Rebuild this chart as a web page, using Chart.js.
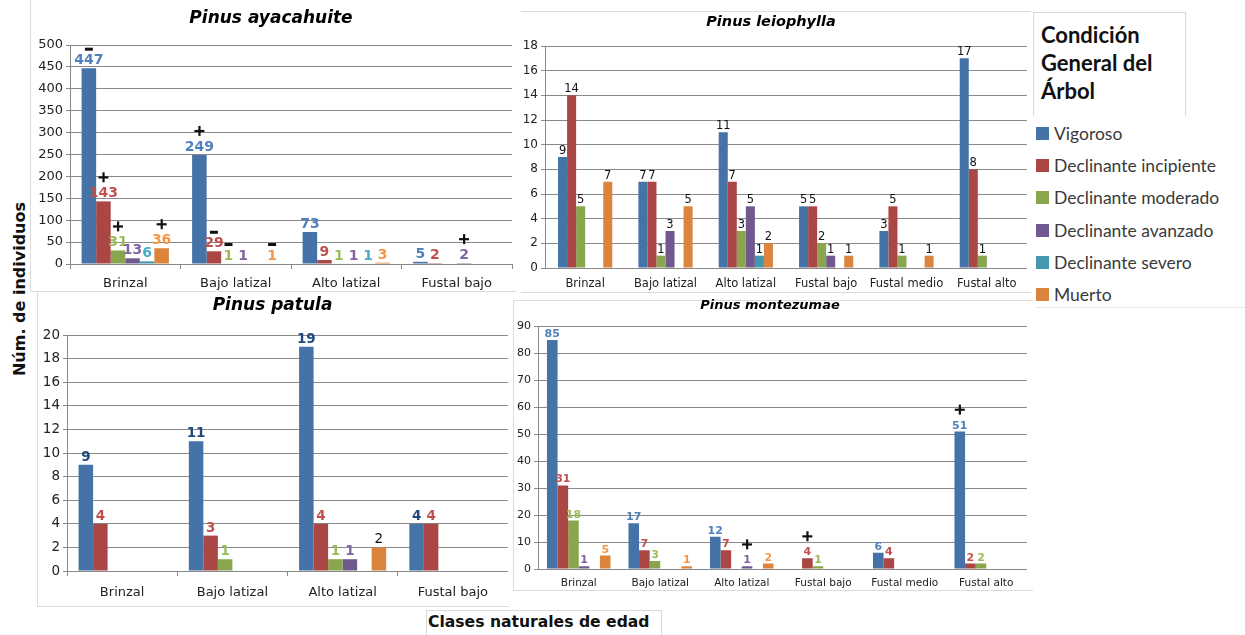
<!DOCTYPE html>
<html>
<head>
<meta charset="utf-8">
<script src="https://cdn.jsdelivr.net/npm/chart.js@4.4.1/dist/chart.umd.min.js"></script>
<style>
  body { margin: 0; background: #fff; width: 1245px; height: 635px; position: relative; overflow: hidden; font-family: "DejaVu Sans", sans-serif; }
  .panel { position: absolute; border: 0 solid #dcdcdc; box-sizing: border-box; }
  .chart-box { position: absolute; }
  #legendTitle { position: absolute; left: 1033px; top: 12px; width: 153px; height: 104px; border: 1px solid #d9d9d9; border-bottom: none; box-sizing: border-box;
    font-family: Lato, sans-serif; font-weight: bold; font-size: 22px; line-height: 28px; padding: 8px 0 0 7px; color: #111; }
  #legendItems { position: absolute; left: 1036px; top: 117px; width: 209px; height: 190px; border-bottom: 1px solid #e6e6e6; font-family: Lato, sans-serif; font-size: 17.5px; color: #3a3a3a; }
  .leg-item { height: 32.3px; display: flex; align-items: center; white-space: nowrap; }
  .leg-sq { width: 13px; height: 13px; margin-right: 5px; }
  #yTitle { position: absolute; left: 19px; top: 289px; transform: translate(-50%, -50%) rotate(-90deg); font-weight: bold; font-size: 16px; white-space: nowrap; color: #111; }
  #xTitle { position: absolute; left: 426px; top: 610px; width: 236px; height: 30px; border-left: 1px solid #d9d9d9; border-top: 1px solid #d9d9d9; border-right: 1px solid #d9d9d9; box-sizing: border-box;
    font-weight: bold; font-size: 15.6px; padding: 2px 0 0 1px; color: #111; }
</style>
</head>
<body>
<div class="panel" style="left:30px;top:-1px;width:486px;height:293px;border-left-width:1px;border-bottom-width:1px;"></div>
<div class="panel" style="left:521px;top:11px;width:510px;height:282px;border-top-width:1px;border-bottom-width:1px;"></div>
<div class="panel" style="left:37px;top:291px;width:472px;height:316px;border-left-width:1px;border-bottom-width:1px;"></div>
<div class="panel" style="left:513px;top:300px;width:520px;height:291px;border-top-width:1px;border-bottom-width:1px;border-left-width:1px;"></div>

<div class="chart-box" style="left:30px;top:3px;width:485px;height:290px;"><canvas id="ayacahuite"></canvas></div>
<div class="chart-box" style="left:515px;top:10px;width:512px;height:282px;"><canvas id="leiophylla"></canvas></div>
<div class="chart-box" style="left:37px;top:291px;width:471px;height:315px;"><canvas id="patula"></canvas></div>
<div class="chart-box" style="left:513px;top:296px;width:514px;height:294px;"><canvas id="montezumae"></canvas></div>

<div id="legendTitle">Condición<br>General del<br>Árbol</div>
<div id="legendItems"></div>
<div id="yTitle">Núm. de individuos</div>
<div id="xTitle">Clases naturales de edad</div>

<script>
// series + categories
const seriesNames = ['Vigoroso', 'Declinante incipiente', 'Declinante moderado', 'Declinante avanzado', 'Declinante severo', 'Muerto'];
const barColors = ['#4572A7', '#AA4643', '#89A54E', '#71588F', '#4198AF', '#DB843D'];
const catsFour = ['Brinzal', 'Bajo latizal', 'Alto latizal', 'Fustal bajo'];
const catsSix = ['Brinzal', 'Bajo latizal', 'Alto latizal', 'Fustal bajo', 'Fustal medio', 'Fustal alto'];

// Pinus ayacahuite (one row per series)
const ayaVigoroso = [447, 249, 73, 5];
const ayaIncipiente = [143, 29, 9, 2];
const ayaModerado = [31, 1, 1, null];
const ayaAvanzado = [13, 1, 1, 2];
const aySevero = [6, null, 1, null];
const ayaMuerto = [36, 1, 3, null];
const ayaMarks = [['-', '+', null, null], ['+', '-', null, null], ['+', '-', null, null], [null, null, null, '+'], [null, null, null, null], ['+', '-', null, null]];

// Pinus leiophylla
const leiVigoroso = [9, 7, 11, 5, 3, 17];
const leiIncipiente = [14, 7, 7, 5, 5, 8];
const leiModerado = [5, 1, 3, 2, 1, 1];
const leiAvanzado = [null, 3, 5, 1, null, null];
const leiSevero = [null, null, 1, null, null, null];
const leiMuerto = [7, 5, 2, 1, 1, null];

// Pinus patula
const patVigoroso = [9, 11, 19, 4];
const patIncipiente = [4, 3, 4, 4];
const patModerado = [null, 1, 1, null];
const patAvanzado = [null, null, 1, null];
const patSevero = [null, null, null, null];
const patMuerto = [null, null, 2, null];

// Pinus montezumae
const monVigoroso = [85, 17, 12, null, 6, 51];
const monIncipiente = [31, 7, 7, 4, 4, 2];
const monModerado = [18, 3, null, 1, null, 2];
const monAvanzado = [1, null, 1, null, null, null];
const monSevero = [null, null, null, null, null, null];
const monMuerto = [5, 1, 2, null, null, null];
const monMarks = [[null, null, null, null, null, '+'], [null, null, null, '+', null, null], [], [null, null, '+', null, null, null], [], []];

Chart.defaults.font.family = '"DejaVu Sans", sans-serif';
Chart.defaults.color = '#222';

// legend
const legendItems = document.getElementById('legendItems');
seriesNames.forEach((name, i) => {
  legendItems.insertAdjacentHTML('beforeend',
    `<div class="leg-item"><span class="leg-sq" style="background:${barColors[i]}"></span>${name}</div>`);
});

// draws the value on top of each bar, plus the +/- marks
const valueLabels = {
  id: 'valueLabels',
  afterDatasetsDraw(chart, args, opts) {
    const ctx = chart.ctx;
    chart.data.datasets.forEach((ds, i) => {
      const meta = chart.getDatasetMeta(i);
      meta.data.forEach((bar, j) => {
        const v = ds.data[j];
        if (v == null) return;
        ctx.save();
        const bold = opts.bold[i];
        ctx.font = `${bold ? 'bold ' : ''}${opts.size}px "DejaVu Sans"`;
        ctx.fillStyle = opts.colors[i];
        ctx.textAlign = 'center';
        ctx.textBaseline = 'alphabetic';
        const base = bar.y - opts.gap;
        ctx.fillText(String(v), bar.x, base);
        const mark = opts.marks && opts.marks[i] && opts.marks[i][j];
        if (mark) {
          const mid = base - opts.size * 0.36;
          ctx.fillStyle = '#111';
          if (mark === '+') {
            ctx.fillRect(bar.x - 5, mid - 15 - 1, 10, 2.2);
            ctx.fillRect(bar.x - 1, mid - 15 - 5, 2.2, 10);
          } else {
            ctx.fillRect(bar.x - 4, mid - 10 - 1.5, 8, 3);
          }
        }
        ctx.restore();
      });
    });
  }
};

function makeChart(id, cfg) {
  const datasets = cfg.values.map((vals, i) => ({
    label: seriesNames[i],
    data: vals,
    backgroundColor: barColors[i],
    categoryPercentage: cfg.catPct,
    barPercentage: 1
  }));

  return new Chart(document.getElementById(id), {
    type: 'bar',
    data: { labels: cfg.labels, datasets: datasets },
    options: {
      responsive: true,
      maintainAspectRatio: false,
      animation: false,
      layout: { padding: { right: cfg.padRight || 0, left: 0, top: 0, bottom: 0 } },
      plugins: {
        legend: { display: false },
        tooltip: { enabled: false },
        title: {
          display: true,
          text: cfg.title,
          color: '#000',
          font: { size: cfg.titleSize, weight: 'bold', style: 'italic' },
          padding: { top: cfg.titleTop, bottom: cfg.titleBottom }
        },
        valueLabels: cfg.labelOpts
      },
      scales: {
        x: {
          grid: { display: cfg.xTicks, offset: true, drawOnChartArea: false, tickLength: 5, color: '#888' },
          border: { display: true, color: '#888' },
          ticks: { font: { size: cfg.xFont }, padding: cfg.xPad, color: '#222' },
          afterFit: s => { s.height = cfg.xHeight; }
        },
        y: {
          min: 0,
          max: cfg.yMax,
          grid: { color: '#8a8a8a', tickLength: 4 },
          border: { display: true, color: '#888' },
          ticks: { stepSize: cfg.yStep, font: { size: cfg.yFont }, padding: 3, color: '#222' },
          afterFit: s => { s.width = cfg.yWidth; }
        }
      }
    },
    plugins: [valueLabels]
  });
}

const brightLabels = ['#4F81BD', '#C0504D', '#9BBB59', '#8064A2', '#4BACC6', '#F79646'];

makeChart('ayacahuite', {
  title: 'Pinus ayacahuite', titleSize: 17, titleTop: 5, titleBottom: 16.6,
  labels: catsFour,
  values: [ayaVigoroso, ayaIncipiente, ayaModerado, ayaAvanzado, aySevero, ayaMuerto],
  catPct: 0.79, yMax: 500, yStep: 50, yFont: 13, xFont: 13, xPad: 7,
  yWidth: 40, xHeight: 29, padRight: 3, xTicks: true,
  labelOpts: { size: 14, gap: 4, colors: brightLabels, bold: [1, 1, 1, 1, 1, 1], marks: ayaMarks }
});

makeChart('leiophylla', {
  title: 'Pinus leiophylla', titleSize: 14.5, titleTop: 4, titleBottom: 14.6,
  labels: catsSix,
  values: [leiVigoroso, leiIncipiente, leiModerado, leiAvanzado, leiSevero, leiMuerto],
  catPct: 0.675, yMax: 18, yStep: 2, yFont: 12, xFont: 11.5, xPad: 4,
  yWidth: 30, xHeight: 24, padRight: 0, xTicks: false,
  labelOpts: { size: 11.5, gap: 3, colors: ['#111', '#111', '#111', '#111', '#111', '#111'], bold: [0, 0, 0, 0, 0, 0] }
});

makeChart('patula', {
  title: 'Pinus patula', titleSize: 17, titleTop: 4, titleBottom: 19.6,
  labels: catsFour,
  values: [patVigoroso, patIncipiente, patModerado, patAvanzado, patSevero, patMuerto],
  catPct: 0.79, yMax: 20, yStep: 2, yFont: 13.5, xFont: 13, xPad: 9,
  yWidth: 30, xHeight: 35, padRight: 0, xTicks: true,
  labelOpts: { size: 13.5, gap: 4, colors: ['#1F497D', '#C0504D', '#9BBB59', '#8064A2', '#4BACC6', '#111'], bold: [1, 1, 1, 1, 1, 0] }
});

makeChart('montezumae', {
  title: 'Pinus montezumae', titleSize: 13, titleTop: 1.5, titleBottom: 13.4,
  labels: catsSix,
  values: [monVigoroso, monIncipiente, monModerado, monAvanzado, monSevero, monMuerto],
  catPct: 0.78, yMax: 90, yStep: 10, yFont: 11, xFont: 10.5, xPad: 3,
  yWidth: 25, xHeight: 21, padRight: 0, xTicks: false,
  labelOpts: { size: 11, gap: 3, colors: brightLabels, bold: [1, 1, 1, 1, 1, 1], marks: monMarks }
});
</script>
</body>
</html>
